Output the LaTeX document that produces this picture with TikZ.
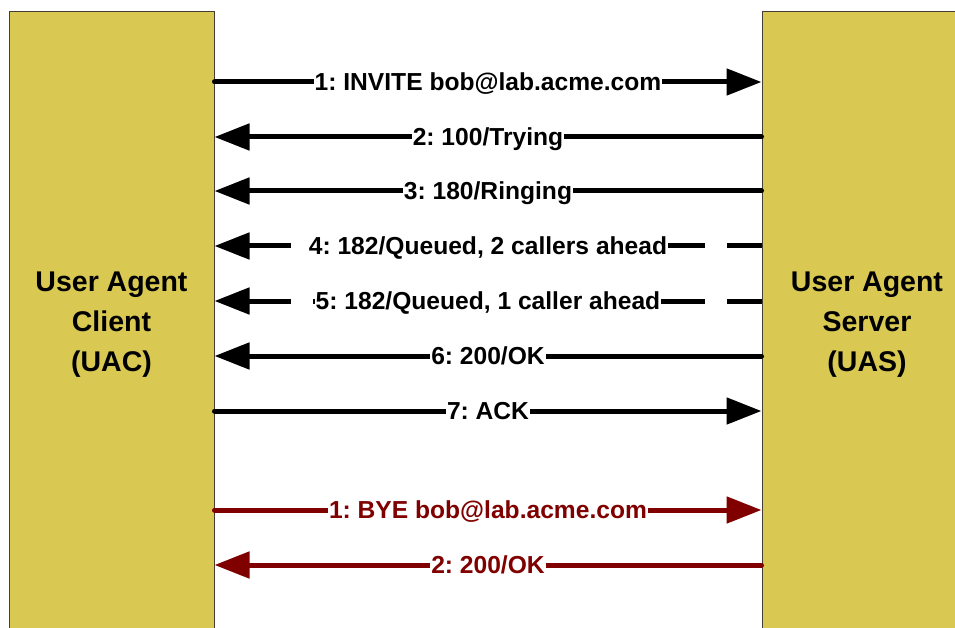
\documentclass[tikz,border=0pt]{standalone}
\usepackage{fontspec}
\setmainfont{Liberation Sans}
\usetikzlibrary{arrows.meta}
\definecolor{boxfill}{RGB}{217,201,82}
\definecolor{boxline}{RGB}{70,62,50}
\definecolor{byered}{RGB}{128,0,0}
\frenchspacing
\begin{document}
\begin{tikzpicture}[x=1pt,y=-1pt,
  agent/.style={draw=boxline, line width=1pt, fill=boxfill, minimum height=626pt,
    align=center, inner sep=0pt, font=\fontsize{28.5}{40}\selectfont\bfseries},
  msg/.style={line width=5pt, line cap=round, -{Triangle[length=35pt,width=26pt]}},
  dmsg/.style={msg, line cap=butt, dash pattern=on 47pt off 22pt, dash phase=12pt},
  lbl/.style={fill=white, inner xsep=1pt, inner ysep=2pt, text height=17.6pt, text depth=0pt,
    font=\fontsize{24.6}{28}\selectfont\bfseries},
]
\path[use as bounding box, clip] (0,0) rectangle (955,628);
\node[agent, minimum width=205pt] (uac) at (111.5,325) {User Agent\\Client\\(UAC)};
\node[agent, minimum width=210pt] (uas) at (867,325) {User Agent\\Server\\(UAS)};
\foreach \n/\y in {r1/82,r2/137,r3/191,r4/246,r5/301,r6/356,r7/411,r8/510,r9/565}
  \coordinate (\n) at (0,\y);
\draw[msg] (uac.east |- r1) -- node[lbl] {1: INVITE bob@lab.acme.com} (uas.west |- r1);
\draw[msg] (uas.west |- r2) -- node[lbl] {2: 100/Trying} (uac.east |- r2);
\draw[msg] (uas.west |- r3) -- node[lbl] {3: 180/Ringing} (uac.east |- r3);
\draw[dmsg] (uas.west |- r4) -- node[lbl] {4: 182/Queued, 2 callers ahead} (uac.east |- r4);
\draw[dmsg] (uas.west |- r5) -- node[lbl] {5: 182/Queued, 1 caller ahead} (uac.east |- r5);
\draw[msg] (uas.west |- r6) -- node[lbl] {6: 200/OK} (uac.east |- r6);
\draw[msg] (uac.east |- r7) -- node[lbl] {7: ACK} (uas.west |- r7);
\draw[msg, byered] (uac.east |- r8) -- node[lbl, text=byered] {1: BYE bob@lab.acme.com} (uas.west |- r8);
\draw[msg, byered] (uas.west |- r9) -- node[lbl, text=byered] {2: 200/OK} (uac.east |- r9);
\end{tikzpicture}
\end{document}
